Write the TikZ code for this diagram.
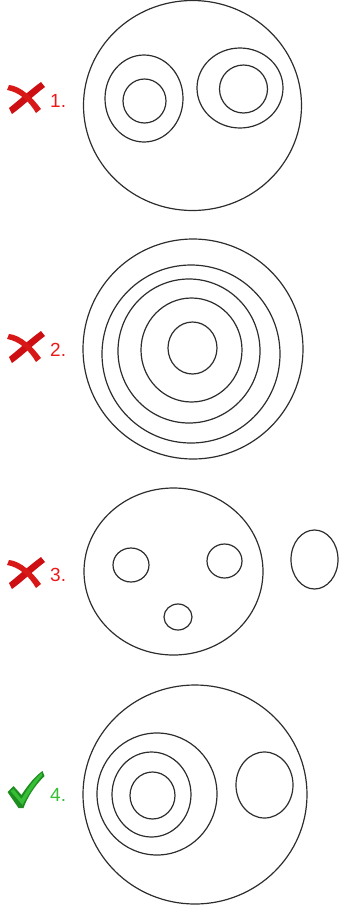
\documentclass[tikz,border=0pt]{standalone}
\usepackage{fontspec}
\setmainfont{Liberation Sans}
\usetikzlibrary{shapes.geometric}

\definecolor{inkgray}{RGB}{45,45,45}
\definecolor{nored}{RGB}{235,25,25}
\definecolor{nodark}{RGB}{205,15,20}
\definecolor{yesgreen}{RGB}{55,190,55}
\definecolor{yesdark}{RGB}{30,140,30}

\begin{document}
\begin{tikzpicture}[
    x=1pt, y=-1pt,
    ring/.style ={draw=inkgray, line width=1.2pt, ellipse, inner sep=0pt},
    num/.style  ={font=\fontsize{19}{19}\selectfont, inner sep=0pt, anchor=base west},
    bad/.style  ={num, text=nored},
    good/.style ={num, text=yesgreen},
    nomark/.pic ={
      \fill[nodark] (16,-16) .. controls (5,-8) and (-6,2) .. (-16,10)
                    -- (-13,16) .. controls (-3,9) and (8,-2) .. (20,-11) -- cycle;
      \fill[nored!92!black] (-18,-8) .. controls (-6,-6) and (4,3) .. (11,15)
                    -- (16,11) .. controls (8,0) and (-4,-12) .. (-16,-13) -- cycle;
    },
    yesmark/.pic={
      \fill[yesdark] (-18,2) -- (-12,-4) -- (-4,5)
                    .. controls (3,-6) and (10,-14) .. (17,-19)
                    -- (19,-14) .. controls (9,-4) and (2,7) .. (-2,18)
                    -- (-7,18) -- cycle;
      \fill[yesgreen] (-15,1) -- (-12,-1) -- (-4,9)
                    .. controls (3,-3) and (10,-12) .. (16,-17)
                    -- (17,-15) .. controls (8,-4) and (1,7) .. (-3,15) -- cycle;
    },
  ]
  \useasboundingbox (0,0) rectangle (339,911);

  % ------------------------------------------------------------ case 1 ---
  \pic at (25,98) {nomark};
  \node[bad] (lab1) at (50,107.3) {1.};
  \node[ring, minimum width=218pt, minimum height=210pt] (out1) at (192.5,105.5) {};
  \node[ring, minimum width=78pt, minimum height=87pt]   (la1)  at (144,98.5) {};
  \node[ring, minimum width=43pt, minimum height=44pt]   (lb1)  at (144.5,101) {};
  \node[ring, minimum width=86pt, minimum height=80pt]   (ra1)  at (240,88) {};
  \node[ring, minimum width=48pt, minimum height=48pt]   (rb1)  at (243.5,89) {};

  % ------------------------------------------------------------ case 2 ---
  \pic at (25,347) {nomark};
  \node[bad] (lab2) at (50,356.7) {2.};
  \node[ring, minimum width=220pt, minimum height=220pt] (out2) at (193,349) {};
  \node[ring, minimum width=178pt, minimum height=178pt] (a2)   at (191,354) {};
  \node[ring, minimum width=142pt, minimum height=144pt] (b2)   at (189,351) {};
  \node[ring, minimum width=101pt, minimum height=104pt] (c2)   at (191.5,350) {};
  \node[ring, minimum width=49pt, minimum height=52pt]   (d2)   at (192.5,348) {};

  % ------------------------------------------------------------ case 3 ---
  \pic at (25,573) {nomark};
  \node[bad] (lab3) at (50,581.7) {3.};
  \node[ring, minimum width=179pt, minimum height=167pt] (out3) at (173.5,571.5) {};
  \node[ring, minimum width=36pt, minimum height=34pt]   (l3)   at (131,565) {};
  \node[ring, minimum width=35pt, minimum height=34pt]   (r3)   at (224.5,561) {};
  \node[ring, minimum width=28pt, minimum height=26pt]   (b3)   at (178,617) {};
  \node[ring, minimum width=47pt, minimum height=59pt]   (x3)   at (314.5,559.5) {};

  % ------------------------------------------------------------ case 4 ---
  \pic at (25.5,790) {yesmark};
  \node[good] (lab4) at (50,801.7) {4.};
  \node[ring, minimum width=224pt, minimum height=219pt] (out4) at (195,794.5) {};
  \node[ring, minimum width=120pt, minimum height=122pt] (a4)   at (157,794) {};
  \node[ring, minimum width=79pt, minimum height=85pt]   (b4)   at (151.5,794.5) {};
  \node[ring, minimum width=45pt, minimum height=47pt]   (c4)   at (152.5,795.5) {};
  \node[ring, minimum width=57pt, minimum height=66pt]   (r4)   at (264.5,785) {};

\end{tikzpicture}
\end{document}
